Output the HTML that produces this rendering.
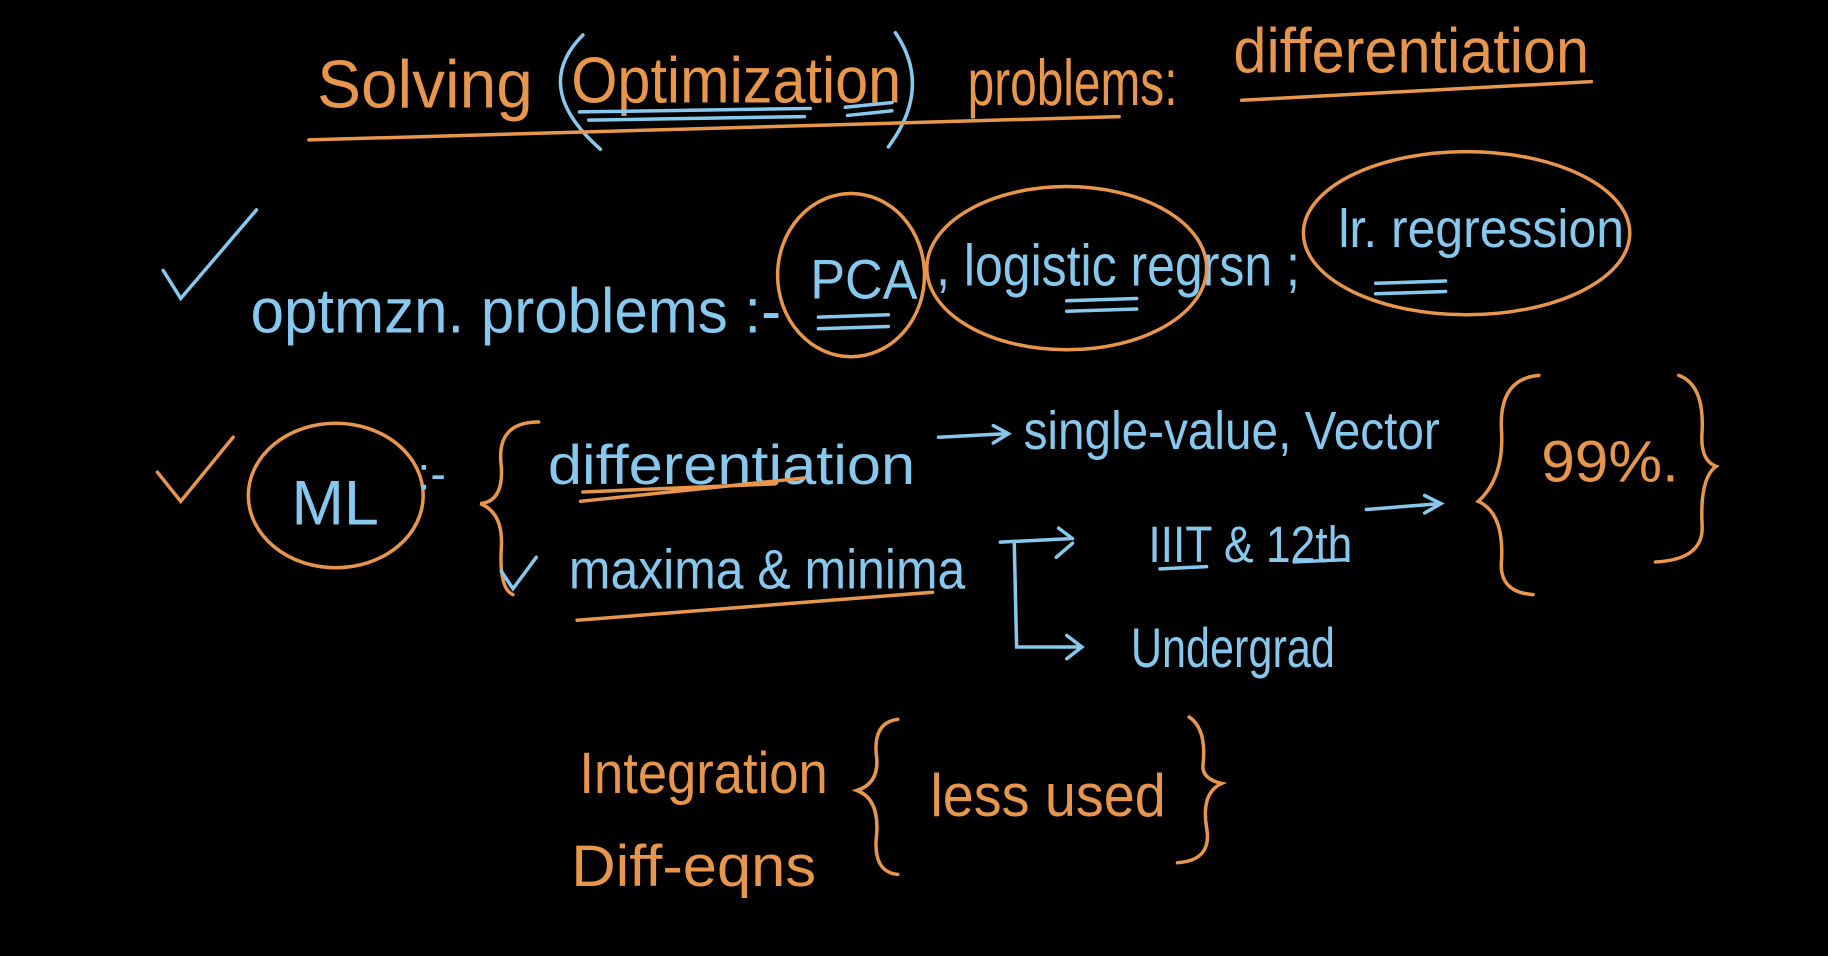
<!DOCTYPE html>
<html><head><meta charset="utf-8"><style>
html,body{margin:0;padding:0;background:#000;width:1828px;height:956px;overflow:hidden}
svg{display:block}
text{font-family:"Liberation Sans",sans-serif}
.o{fill:#e8964c}.b{fill:#86c8ee}
.so{stroke:#e8964c;fill:none;stroke-width:3;stroke-linecap:round}
.sb{stroke:#86c8ee;fill:none;stroke-width:3;stroke-linecap:round}
</style></head><body>
<svg width="1828" height="956" viewBox="0 0 1568 820" xmlns="http://www.w3.org/2000/svg">
<rect width="1568" height="820" fill="#000"/>
<text x="272" y="92" class="o" font-size="58" textLength="185" lengthAdjust="spacingAndGlyphs">Solving</text>
<text x="490" y="88" class="o" font-size="56" textLength="283" lengthAdjust="spacingAndGlyphs">Optimization</text>
<text x="830" y="90" class="o" font-size="56" textLength="180" lengthAdjust="spacingAndGlyphs">problems:</text>
<text x="1058" y="62" class="o" font-size="54" textLength="305" lengthAdjust="spacingAndGlyphs">differentiation</text>
<path class="sb" d="M500,30 Q455,75 515,128"/>
<path class="sb" d="M768,28 Q800,75 762,126"/>
<path class="so" d="M265,120 L960,100"/>
<path class="so" d="M1065,86 L1365,70"/>
<path class="sb" d="M497,96 L695,93 M505,103 L690,100 M725,92 L765,88 M727,99 L765,95"/>
<path class="sb" d="M140,232 L155,256 L220,180"/>
<text x="215" y="285" class="b" font-size="54" textLength="455" lengthAdjust="spacingAndGlyphs">optmzn. problems :-</text>
<text x="695" y="256" class="b" font-size="48" textLength="92" lengthAdjust="spacingAndGlyphs">PCA</text>
<ellipse class="so" cx="730" cy="236" rx="63" ry="70"/>
<text x="803" y="245" class="b" font-size="50" textLength="312" lengthAdjust="spacingAndGlyphs">, logistic regrsn ;</text>
<ellipse class="so" cx="915" cy="230" rx="120" ry="70"/>
<text x="1148" y="212" class="b" font-size="46" textLength="245" lengthAdjust="spacingAndGlyphs">lr. regression</text>
<ellipse class="so" cx="1258" cy="200" rx="140" ry="70"/>
<path class="sb" d="M702,272 L762,270 M702,282 L762,280 M915,258 L975,256 M915,267 L975,265 M1180,243 L1240,241 M1180,252 L1240,250"/>
<path class="so" d="M135,405 L155,430 L200,375"/>
<ellipse class="so" cx="288" cy="425" rx="75" ry="62"/>
<text x="250" y="450" class="b" font-size="54">ML</text>
<text x="358" y="420" class="b" font-size="40">:-</text>
<path class="so" d="M462,362 Q425,362 430,400 Q432,430 412,432 Q432,440 430,470 Q428,505 440,510"/>
<text x="470" y="415" class="b" font-size="48" textLength="315" lengthAdjust="spacingAndGlyphs">differentiation</text>
<path class="so" d="M498,430 L690,410 M500,422 L665,415"/>
<path class="sb" d="M805,375 L862,372 M852,365 L865,372 L852,380"/>
<text x="878" y="385" class="b" font-size="46" textLength="357" lengthAdjust="spacingAndGlyphs">single-value, Vector</text>
<path class="sb" d="M430,490 L440,505 L460,478"/>
<text x="488" y="505" class="b" font-size="48" textLength="340" lengthAdjust="spacingAndGlyphs">maxima &amp; minima</text>
<path class="so" d="M495,532 L800,508"/>
<path class="sb" d="M858,465 L918,462 M908,453 L920,462 M906,478 L920,466 M870,465 L872,555 L925,555 M915,545 L928,555 L915,565"/>
<text x="985" y="482" class="b" font-size="44" textLength="175" lengthAdjust="spacingAndGlyphs">IIIT &amp; 12th</text>
<path class="sb" d="M995,488 L1035,486 M1110,482 L1155,480"/>
<path class="sb" d="M1172,437 L1235,432 M1222,425 L1236,432 L1222,440"/>
<text x="970" y="572" class="b" font-size="48" textLength="175" lengthAdjust="spacingAndGlyphs">Undergrad</text>
<path class="so" d="M1320,322 Q1285,325 1288,370 Q1290,410 1268,430 Q1290,440 1288,480 Q1285,508 1315,510"/>
<text x="1322" y="413" class="o" font-size="50" textLength="118" lengthAdjust="spacingAndGlyphs">99%.</text>
<path class="so" d="M1440,322 Q1462,330 1460,370 Q1458,395 1472,400 Q1458,410 1460,450 Q1462,480 1420,482"/>
<text x="497" y="680" class="o" font-size="50" textLength="213" lengthAdjust="spacingAndGlyphs">Integration</text>
<text x="490" y="760" class="o" font-size="50" textLength="210" lengthAdjust="spacingAndGlyphs">Diff-eqns</text>
<path class="so" d="M770,617 Q748,620 752,650 Q754,672 735,678 Q754,685 752,715 Q748,748 770,750"/>
<text x="798" y="700" class="o" font-size="52" textLength="202" lengthAdjust="spacingAndGlyphs">less used</text>
<path class="so" d="M1020,615 Q1035,625 1032,655 Q1030,668 1048,672 Q1030,680 1035,710 Q1040,738 1010,740"/>
</svg>
</body></html>
